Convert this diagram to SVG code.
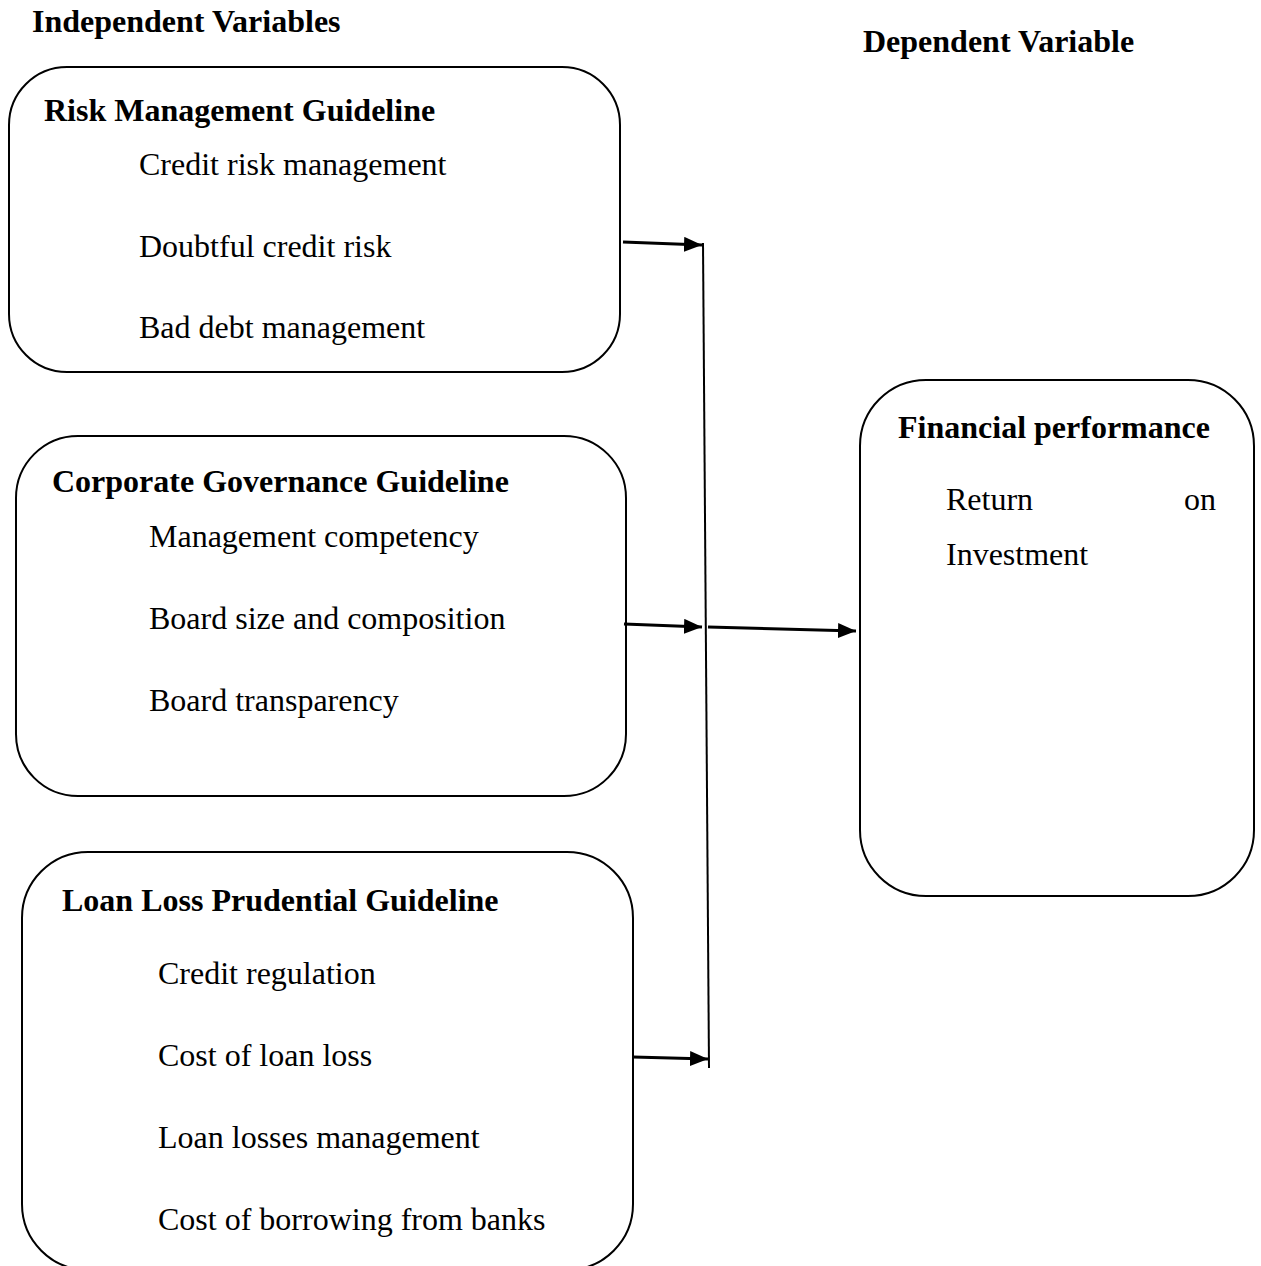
<svg xmlns="http://www.w3.org/2000/svg" width="1261" height="1266" viewBox="0 0 1261 1266">
<style>
text{font-family:"Liberation Serif","Times New Roman",serif;font-size:32px;fill:#000}
.b{font-weight:bold}
.box{fill:none;stroke:#000;stroke-width:2}
.ln{fill:none;stroke:#000;stroke-width:2}
.ar{fill:none;stroke:#000;stroke-width:3;marker-end:url(#ah)}
</style>
<defs>
<marker id="ah" markerWidth="6" markerHeight="5" refX="6" refY="2.5" orient="auto" markerUnits="strokeWidth">
<path d="M0,0 L6,2.5 L0,5 Z" fill="#000"/>
</marker>
</defs>
<rect width="1261" height="1266" fill="#fff"/>
<text class="b" x="32" y="32">Independent Variables</text>
<text class="b" x="863" y="52">Dependent Variable</text>
<g id="risk">
<rect class="box" x="9" y="67" width="611" height="305" rx="58" ry="58"/>
<text class="b" x="44" y="121">Risk Management Guideline</text>
<text x="139" y="175">Credit risk management</text>
<text x="139" y="257">Doubtful credit risk</text>
<text x="139" y="338">Bad debt management</text>
</g>
<g id="governance">
<rect class="box" x="16" y="436" width="610" height="360" rx="62" ry="62"/>
<text class="b" x="52" y="492">Corporate Governance Guideline</text>
<text x="149" y="547">Management competency</text>
<text x="149" y="629">Board size and composition</text>
<text x="149" y="711">Board transparency</text>
</g>
<g id="loanloss">
<rect class="box" x="22" y="852" width="611" height="418" rx="66" ry="66"/>
<text class="b" x="62" y="911">Loan Loss Prudential Guideline</text>
<text x="158" y="984">Credit regulation</text>
<text x="158" y="1066">Cost of loan loss</text>
<text x="158" y="1148">Loan losses management</text>
<text x="158" y="1230">Cost of borrowing from banks</text>
</g>
<g id="financial">
<rect class="box" x="860" y="380" width="394" height="516" rx="66" ry="66"/>
<text class="b" x="898" y="438">Financial performance</text>
<text x="946" y="510">Return</text>
<text x="1216" y="510" text-anchor="end">on</text>
<text x="946" y="565">Investment</text>
</g>
<g id="connectors">
<line class="ln" x1="703" y1="243" x2="709" y2="1068"/>
<line class="ar" x1="623" y1="242" x2="702" y2="245"/>
<line class="ar" x1="624" y1="624" x2="702" y2="627"/>
<line class="ar" x1="708" y1="627" x2="856" y2="631"/>
<line class="ar" x1="633" y1="1057" x2="708" y2="1059"/>
</g>
</svg>
